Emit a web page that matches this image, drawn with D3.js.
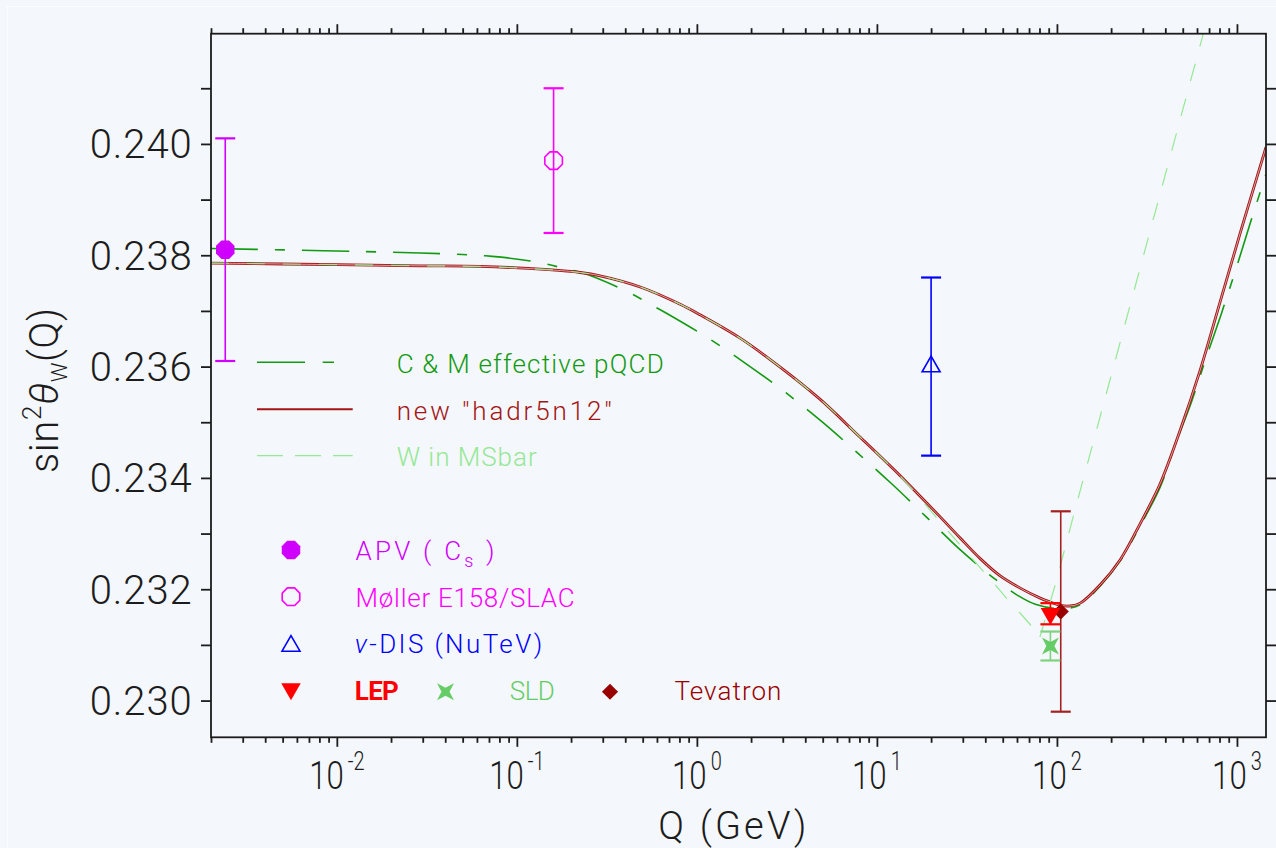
<!DOCTYPE html>
<html>
<head>
<meta charset="utf-8">
<script src="https://cdn.jsdelivr.net/npm/d3@7"></script>
<style>
  html, body { margin: 0; padding: 0; background: #f4f7fb; }
  svg { display: block; }
</style>
</head>
<body>
<svg id="chart" width="1276" height="848"></svg>
<script>
// ---------------- data ----------------
// Running weak mixing angle, new "hadr5n12" parametrisation
const hadrQ = [0.002, 0.01, 0.029, 0.0625, 0.15, 0.2247, 0.29, 0.4842, 0.8078, 1.043, 1.74, 2.902,
  4.842, 8.078, 13.47, 17.4, 22.47, 29.02, 37.49, 48.42, 62.54, 80.78, 91.8, 104.3, 118.6, 134.7,
  174, 224.7, 290.2, 374.9, 484.2, 625.4, 807.8, 1043, 1450];
const hadrS = [0.23786, 0.23783, 0.23781, 0.23780, 0.23774, 0.23769, 0.23763, 0.23743, 0.23712, 0.23693, 0.23651, 0.23599,
  0.23541, 0.23473, 0.23404, 0.23367, 0.23330, 0.23292, 0.23255, 0.23224, 0.23202, 0.23184, 0.23177, 0.23171, 0.23170, 0.23175,
  0.23208, 0.23253, 0.23318, 0.23390, 0.23486, 0.23594, 0.23717, 0.23840, 0.23994];

// C & M effective pQCD
const cmQ = [0.002, 0.029, 0.073, 0.133, 0.19, 0.2335, 0.415, 0.564, 0.693, 1.17, 1.896, 3.122, 4.948,
  7.80, 12.12, 18.79, 28.77, 45.4, 61.2, 75.8, 104, 134.7, 174, 224.7, 290.2, 375, 453, 559.6, 678,
  821, 991, 1186, 1405, 1450];
const cmS = [0.23812, 0.23804, 0.23798, 0.23787, 0.23775, 0.23768, 0.23734, 0.23710, 0.23694, 0.23650, 0.23604, 0.23553, 0.23501,
  0.23445, 0.23389, 0.23330, 0.23272, 0.23218, 0.23188, 0.23173, 0.23165, 0.23172, 0.23206, 0.23251, 0.23314, 0.23384, 0.23459, 0.23537, 0.23618,
  0.23696, 0.23777, 0.23858, 0.23932, 0.23946];

// W in MSbar: below and above the W threshold
const wLowQ = [0.002, 0.01, 0.029, 0.0625, 0.15, 0.2247, 0.29, 0.4842, 0.8078, 1.043, 1.74, 2.902,
  4.842, 8.078, 13.47, 22.47, 26.5, 45.4, 52.4, 62.5, 72.5, 80.4];
const wLowS = [0.23786, 0.23783, 0.23781, 0.23780, 0.23774, 0.23769, 0.23763, 0.23743, 0.23712, 0.23693, 0.23651, 0.23599,
  0.23541, 0.23473, 0.23403, 0.23321, 0.23294, 0.23208, 0.23184, 0.23157, 0.23133, 0.23114];
const wHighQ = [80.4, 98.9, 125.9, 650, 800];
const wHighS = [0.23114, 0.23213, 0.23342, 0.24198, 0.24306];

// Measurements
const measNames = ["APV", "Møller", "NuTeV", "LEP", "SLD", "Tevatron"];
const measQ     = [0.0024, 0.16, 20, 92, 92, 105];
const measS     = [0.2381, 0.2397, 0.2360, 0.23156, 0.23098, 0.2316];
const measErr   = [0.0020, 0.0013, 0.0016, 0.00019, 0.00026, 0.0018];

// Axes
const yTickValues = [0.230, 0.231, 0.232, 0.233, 0.234, 0.235, 0.236, 0.237, 0.238, 0.239, 0.240, 0.241];
const yTickLabels = ["0.230", "0.232", "0.234", "0.236", "0.238", "0.240"];
const xDecades = [-2, -1, 0, 1, 2, 3];

// ---------------- layout ----------------
const svg = d3.select("#chart");
const W = 1276, H = 848;
const BG = "#f4f7fb";
const FONT = "Roboto, 'DejaVu Sans', sans-serif";
const plot = { left: 211, top: 33.7, right: 1266, bottom: 737.3 };

const x = d3.scaleLog().domain([0.002, 1450]).range([plot.left, plot.right]);
const y = d3.scaleLinear().domain([0.22934, 0.24198]).range([plot.bottom, plot.top]);

const C = {
  axis: "#1c1c1c",
  cm: "#139a13",
  hadr: "#a31515",
  w: "#95e895",
  apv: "#d000ff",
  moller: "#ff00ff",
  nutev: "#0000ff",
  lep: "#ff0000",
  sld: "#66cc66",
  tev: "#990000",
  tevBar: "#a52020"
};

// light-weight text
function lightText(sel, size) {
  return sel.style("font-family", FONT).style("font-weight", 300).attr("font-size", size);
}

svg.append("rect").attr("width", W).attr("height", H).attr("fill", BG);
svg.append("rect").attr("x", 7.5).attr("y", 6.5).attr("width", W).attr("height", H)
  .attr("fill", "none").attr("stroke", "#fdfeff").attr("stroke-width", 1);

svg.append("clipPath").attr("id", "plotclip").append("rect")
  .attr("x", plot.left).attr("y", plot.top)
  .attr("width", plot.right - plot.left).attr("height", plot.bottom - plot.top);

// ---------------- ticks ----------------
const minorX = [];
for (let e = -3; e <= 3; e++) for (let m = 2; m <= 9; m++) {
  const v = m * Math.pow(10, e);
  if (v >= 0.002 && v <= 1450) minorX.push(v);
}
const majorX = xDecades.map(e => Math.pow(10, e));

function tickStyle(g) {
  g.select(".domain").remove();
  g.selectAll("line").attr("stroke", C.axis).attr("stroke-width", 1.8);
}
svg.append("g").attr("transform", `translate(0,${plot.bottom})`)
  .call(d3.axisBottom(x).tickValues(minorX).tickSize(5.5).tickFormat("")).call(tickStyle);
svg.append("g").attr("transform", `translate(0,${plot.bottom})`)
  .call(d3.axisBottom(x).tickValues(majorX).tickSize(9.5).tickFormat("")).call(tickStyle);
svg.append("g").attr("transform", `translate(0,${plot.top})`)
  .call(d3.axisTop(x).tickValues(minorX).tickSize(5.5).tickFormat("")).call(tickStyle);
svg.append("g").attr("transform", `translate(0,${plot.top})`)
  .call(d3.axisTop(x).tickValues(majorX).tickSize(9.5).tickFormat("")).call(tickStyle);
svg.append("g").attr("transform", `translate(${plot.left},0)`)
  .call(d3.axisLeft(y).tickValues(yTickValues).tickSize(10).tickFormat("")).call(tickStyle);
svg.append("g").attr("transform", `translate(${plot.right},0)`)
  .call(d3.axisRight(y).tickValues(yTickValues).tickSize(10).tickFormat("")).call(tickStyle);

// y tick labels
svg.append("g").selectAll("text").data(yTickLabels).join("text")
  .attr("x", 191.7).attr("y", d => y(+d) + 14.5)
  .attr("text-anchor", "end").attr("fill", "#1c1c1c")
  .attr("textLength", 102).attr("lengthAdjust", "spacing")
  .call(lightText, 40)
  .text(d => d);

// x tick labels: 10^n
const xl = svg.append("g").selectAll("text").data(xDecades).join("text")
  .attr("transform", d => `translate(${x(Math.pow(10, d))},789.3) scale(0.8,1)`)
  .attr("text-anchor", "middle").attr("fill", "#1c1c1c")
  .call(lightText, 39);
xl.append("tspan").text("10");
xl.append("tspan").attr("font-size", 25).attr("dx", 5).attr("dy", -19).text(d => String(d));

// axis titles
svg.append("text").attr("x", 658.3).attr("y", 839).attr("fill", "#1c1c1c")
  .attr("textLength", 148).attr("lengthAdjust", "spacing")
  .call(lightText, 38)
  .text("Q  (GeV)");

const yt = svg.append("text")
  .attr("transform", "translate(57.5,390.5) rotate(-90)")
  .attr("text-anchor", "middle").attr("fill", "#1c1c1c")
  .attr("textLength", 165).attr("lengthAdjust", "spacing")
  .call(lightText, 40);
yt.append("tspan").text("sin");
yt.append("tspan").attr("font-size", 26).attr("dy", -17).text("2");
yt.append("tspan").attr("font-style", "italic").attr("dy", 17).text("θ");
yt.append("tspan").attr("font-size", 22).attr("dy", 9).text("W");
yt.append("tspan").attr("dy", -9).text("(Q)");

// ---------------- curves ----------------
const curves = svg.append("g").attr("clip-path", "url(#plotclip)");
const smooth = d3.line().x(d => x(d[0])).y(d => y(d[1])).curve(d3.curveCatmullRom.alpha(0.5));
const straight = d3.line().x(d => x(d[0])).y(d => y(d[1]));

const cmPts = d3.zip(cmQ, cmS);
const hadrPts = d3.zip(hadrQ, hadrS);
const wLowPts = d3.zip(wLowQ, wLowS);
const wHighPts = d3.zip(wHighQ, wHighS);

curves.append("path").attr("d", smooth(cmPts)).attr("fill", "none")
  .attr("stroke", C.cm).attr("stroke-width", 1.6).attr("stroke-dasharray", "47 17 10 17");
curves.append("path").attr("d", smooth(hadrPts)).attr("fill", "none")
  .attr("stroke", C.hadr).attr("stroke-width", 2.8);
curves.append("path").attr("d", smooth(hadrPts)).attr("fill", "none")
  .attr("stroke", "#f0dcdc").attr("stroke-width", 0.7);
curves.append("path").attr("d", smooth(wLowPts)).attr("fill", "none")
  .attr("stroke", C.w).attr("stroke-width", 1.2).attr("stroke-dasharray", "18 18");
curves.append("path").attr("d", straight(wHighPts)).attr("fill", "none")
  .attr("stroke", C.w).attr("stroke-width", 1.2).attr("stroke-dasharray", "18 18");

// ---------------- markers ----------------
const radial = d3.lineRadial().curve(d3.curveLinearClosed);
function octagon(r) {
  return radial(d3.range(8).map(i => [Math.PI / 8 + i * Math.PI / 4, r]));
}
function star4(ro, ri) {
  return radial(d3.range(8).map(i => [Math.PI / 4 + i * Math.PI / 4, i % 2 ? ri : ro]));
}
const markerDefs = {
  APV:      { d: octagon(10), fill: C.apv, stroke: "none", rot: 0 },
  "Møller": { d: octagon(9.5), fill: "none", stroke: C.moller, rot: 0 },
  NuTeV:    { d: d3.symbol(d3.symbolTriangle, 140)(), fill: "none", stroke: C.nutev, rot: 0 },
  LEP:      { d: d3.symbol(d3.symbolTriangle, 165)(), fill: C.lep, stroke: "none", rot: 180 },
  SLD:      { d: star4(12, 4), fill: C.sld, stroke: "none", rot: 0 },
  Tevatron: { d: d3.symbol(d3.symbolSquare, 130)(), fill: C.tev, stroke: "none", rot: 45 }
};
const barColors = { APV: C.apv, "Møller": C.moller, NuTeV: C.nutev, LEP: C.lep, SLD: "#7fd27f", Tevatron: C.tevBar };

const meas = measNames.map((n, i) => ({ name: n, q: measQ[i], s: measS[i], e: measErr[i] }));
const mg = svg.append("g");
// error bars first, Tevatron bar underneath the rest
const barOrder = ["Tevatron", "APV", "Møller", "NuTeV", "SLD", "LEP"];
barOrder.forEach(n => {
  const m = meas.find(d => d.name === n);
  const cx = x(m.q), y0 = y(m.s + m.e), y1 = y(m.s - m.e);
  const g = mg.append("g").attr("stroke", barColors[n]);
  g.append("line").attr("x1", cx).attr("x2", cx).attr("y1", y0).attr("y2", y1).attr("stroke-width", 1.6);
  [y0, y1].forEach(yy => g.append("line").attr("x1", cx - 10).attr("x2", cx + 10)
    .attr("y1", yy).attr("y2", yy).attr("stroke-width", 2.2));
});
const markerOrder = ["APV", "Møller", "NuTeV", "SLD", "Tevatron", "LEP"];
markerOrder.forEach(n => {
  const m = meas.find(d => d.name === n);
  const md = markerDefs[n];
  mg.append("path").attr("d", md.d)
    .attr("transform", `translate(${x(m.q)},${y(m.s)}) rotate(${md.rot})`)
    .attr("fill", md.fill).attr("stroke", md.stroke).attr("stroke-width", 1.6);
});

// ---------------- legend ----------------
const lg = svg.append("g");
const lineLegend = [
  { y: 362.3, ty: 373.3, color: C.cm, dash: "48 17.7 11.3 100", width: 1.6, label: "C & M effective pQCD", len: 267 },
  { y: 409.3, ty: 420, color: C.hadr, dash: null, width: 2, label: "new ″hadr5n12″", len: 215 },
  { y: 455.7, ty: 466, color: C.w, dash: "26 12", width: 1.2, label: "W in MSbar", len: 140 }
];
lineLegend.forEach(d => {
  lg.append("line").attr("x1", 257).attr("x2", 352.7).attr("y1", d.y).attr("y2", d.y)
    .attr("stroke", d.color).attr("stroke-width", d.width).attr("stroke-dasharray", d.dash);
  lg.append("text").attr("x", 396.7).attr("y", d.ty).attr("fill", d.color)
    .attr("textLength", d.len).attr("lengthAdjust", "spacing")
    .call(lightText, 26).text(d.label);
});

function legendMarker(name, cx, cy) {
  const md = markerDefs[name];
  lg.append("path").attr("d", md.d).attr("transform", `translate(${cx},${cy}) rotate(${md.rot})`)
    .attr("fill", md.fill).attr("stroke", md.stroke).attr("stroke-width", 1.6);
}
legendMarker("APV", 291, 550);
legendMarker("Møller", 291, 596.7);
legendMarker("NuTeV", 291, 646);
legendMarker("LEP", 291, 689);
legendMarker("SLD", 445.5, 691.7);
legendMarker("Tevatron", 610, 691.7);

const tApv = lg.append("text").attr("x", 355.6).attr("y", 560).attr("fill", C.apv)
  .attr("textLength", 139).attr("lengthAdjust", "spacing").call(lightText, 26);
tApv.append("tspan").text("APV ( C");
tApv.append("tspan").attr("font-size", 18).attr("dy", 7).text("s");
tApv.append("tspan").attr("dy", -7).text(" )");

lg.append("text").attr("x", 355.6).attr("y", 606.7).attr("fill", C.moller)
  .attr("textLength", 219).attr("lengthAdjust", "spacing").call(lightText, 26)
  .text("Møller E158/SLAC");

const tNu = lg.append("text").attr("x", 354.8).attr("y", 653.3).attr("fill", C.nutev)
  .attr("textLength", 187.5).attr("lengthAdjust", "spacing").call(lightText, 26);
tNu.append("tspan").attr("font-style", "italic").text("ν");
tNu.append("tspan").text("-DIS (NuTeV)");

lg.append("text").attr("x", 354.8).attr("y", 700).attr("fill", C.lep)
  .attr("textLength", 44).attr("lengthAdjust", "spacing")
  .style("font-family", FONT).style("font-weight", 700).attr("font-size", 26)
  .text("LEP");
lg.append("text").attr("x", 509.8).attr("y", 700).attr("fill", C.sld)
  .attr("textLength", 45).attr("lengthAdjust", "spacing").call(lightText, 26).text("SLD");
lg.append("text").attr("x", 674.4).attr("y", 700).attr("fill", C.tev)
  .attr("textLength", 107).attr("lengthAdjust", "spacing").call(lightText, 26).text("Tevatron");

// ---------------- frame ----------------
svg.append("rect").attr("x", plot.left).attr("y", plot.top)
  .attr("width", plot.right - plot.left).attr("height", plot.bottom - plot.top)
  .attr("fill", "none").attr("stroke", C.axis).attr("stroke-width", 1.8);
</script>
</body>
</html>
